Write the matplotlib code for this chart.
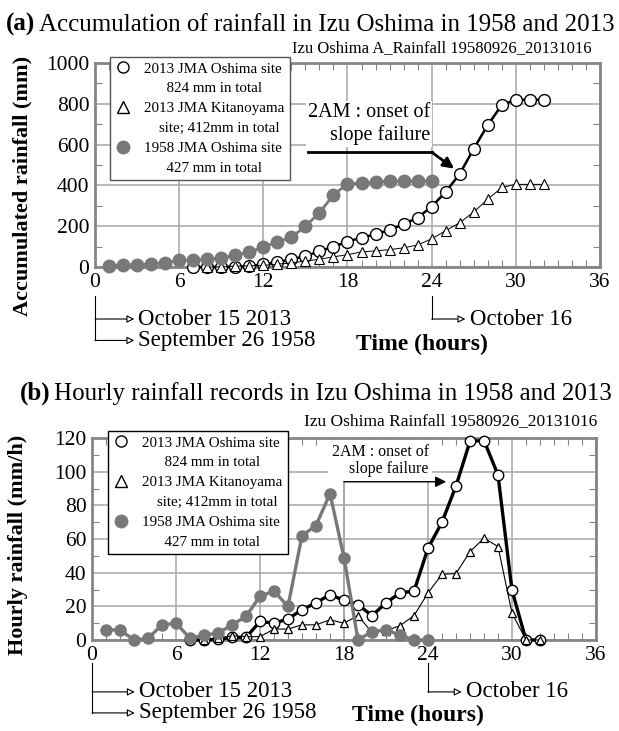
import matplotlib
matplotlib.use('Agg')
import matplotlib.pyplot as plt
from matplotlib.lines import Line2D
from matplotlib.ticker import MultipleLocator

plt.rcParams['font.family'] = ['Liberation Serif', 'DejaVu Serif']

# ---- data ----
hours_1958 = list(range(1, 25))
hours_osh = list(range(7, 33))
hours_kit = list(range(8, 33))

# accumulated rainfall (mm)
cum_1958 = [5, 11, 11, 13, 22, 32, 34, 38, 45, 57, 72, 98,
            124, 145, 200, 266, 353, 408, 410, 416, 420, 422, 422, 422]
cum_osh = [0, 0, 1, 2, 4, 14, 24, 37, 54, 77, 100, 124, 144,
           160, 182, 210, 242, 296, 368, 456, 580, 696, 794, 820, 820, 820]
cum_kit = [0, 1, 4, 6, 8, 14, 20, 29, 38, 50, 60, 74, 79,
           85, 94, 108, 138, 178, 217, 270, 332, 390, 405, 405, 405]

# hourly rainfall (mm/h)
rain_1958 = [6, 6, 0, 1, 9, 10, 1, 3, 4, 9, 14, 26,
             29, 20, 62, 68, 87, 49, 0, 5, 6, 3, 0, 0]
rain_osh = [0, 0, 0.5, 1.5, 1.5, 11, 10, 12.5, 18, 22, 27, 23.5, 21,
            14.5, 22, 28, 29, 54.5, 70, 91.5, 118, 118.5, 98, 29.5, 0, 0]
rain_kit = [0, 1, 2.5, 2, 2, 6.5, 6.5, 9, 9, 12, 10, 14.5, 4.5,
            5.5, 8.5, 14.5, 28, 39, 39.5, 52.5, 60.5, 55.5, 16, 0, 0]

leg_labels = ['2013 JMA Oshima site', '      824 mm in total',
              '2013 JMA Kitanoyama', '    site; 412mm in total',
              '1958 JMA Oshima site', '      427 mm in total']

GRAY = '#787878'
GRID = '#a6a6a6'
SPINE = '#858585'
W, H = 619, 731

fig = plt.figure(figsize=(W / 100, H / 100), dpi=100)


def fx(px):
    return px / W


def fy(py):
    return 1 - py / H


ax1 = fig.add_axes([fx(95), fy(267), fx(600) - fx(95), fy(63) - fy(267)])
ax2 = fig.add_axes([fx(92), fy(640), fx(596) - fx(92), fy(438) - fy(640)])


def style_axes(ax, ymax, ystep):
    ax.set_xlim(0, 36)
    ax.set_ylim(0, ymax)
    ax.xaxis.set_major_locator(MultipleLocator(6))
    ax.xaxis.set_minor_locator(MultipleLocator(1))
    ax.yaxis.set_major_locator(MultipleLocator(ystep))
    ax.yaxis.set_minor_locator(MultipleLocator(ystep / 2))
    ax.grid(True, which='major', color=GRID, lw=1.1)
    ax.set_axisbelow(True)
    ax.tick_params(which='major', length=0, labelsize=15.5, pad=4)
    ax.tick_params(which='minor', direction='in', length=5, width=0.8,
                   color=SPINE, top=True, right=True)
    for s in ax.spines.values():
        s.set_color(SPINE)
        s.set_linewidth(2)


def add_legend(ax, x0, y0, edge):
    hs = [Line2D([], [], ls='none', marker='o', ms=8, mfc='white', mec='k', mew=1),
          Line2D([], [], ls='none'),
          Line2D([], [], ls='none', marker='^', ms=8, mfc='white', mec='k', mew=1),
          Line2D([], [], ls='none'),
          Line2D([], [], ls='none', marker='o', ms=9, mfc=GRAY, mec=GRAY),
          Line2D([], [], ls='none')]
    leg = ax.legend(hs, leg_labels, loc='upper left', bbox_to_anchor=(x0, y0),
                    fontsize=10.8, fancybox=False, framealpha=1, edgecolor=edge,
                    borderpad=0.35, labelspacing=0.42, handlelength=1.0,
                    handletextpad=0.9, borderaxespad=0)
    leg.get_frame().set_linewidth(1)
    return leg


def date_marks(ax, y_top, y_r1, y_r2, tx_left, tx_right):
    tr = ax.get_xaxis_transform()
    ap = dict(arrowstyle='-|>', fc='white', ec='k', lw=0.8,
              shrinkA=0, shrinkB=0, mutation_scale=11)
    ax.plot([0, 0], [y_top, y_r2], transform=tr, clip_on=False, color='k', lw=0.8)
    ax.plot([24, 24], [y_top, y_r1], transform=tr, clip_on=False, color='k', lw=0.8)
    for yy, x0, x1, txt in [(y_r1, 0, tx_left, 'October 15 2013'),
                            (y_r2, 0, tx_left, 'September 26 1958'),
                            (y_r1, 24, tx_right, 'October 16')]:
        ax.annotate('', xy=(x1 - 0.3, yy), xytext=(x0, yy), xycoords=tr,
                    textcoords=tr, arrowprops=ap, annotation_clip=False)
        ax.text(x1, yy, txt, transform=tr, va='center', ha='left', fontsize=16.5)


def title(px, py, bold, rest, size):
    r = fig.canvas.get_renderer()
    t1 = fig.text(fx(px), fy(py), bold, fontsize=size, fontweight='bold', va='baseline')
    w = t1.get_window_extent(r).width / W
    fig.text(fx(px) + w + 0.006, fy(py), rest, fontsize=size, va='baseline')


# ---- panel (a) ----
style_axes(ax1, 1000, 200)
ax1.plot(hours_osh, cum_osh, color='k', lw=1.8, marker='o', ms=8.5, mfc='white',
         mec='k', mew=1, clip_on=False, zorder=3)
ax1.plot(hours_kit, cum_kit, color='k', lw=0.7, marker='^', ms=6.5, mfc='white',
         mec='k', mew=0.8, clip_on=False, zorder=4)
ax1.plot(hours_1958, cum_1958, color=GRAY, lw=2, marker='o', ms=9, mfc=GRAY,
         mec=GRAY, clip_on=False, zorder=5)
add_legend(ax1, 0.03, 1.03, '#555555')
ax1.text(23.9, 700, '2AM : onset of\nslope failure', ha='right', va='center',
         multialignment='right', fontsize=14.5, linespacing=1.22,
         bbox=dict(fc='white', ec='none', pad=1.5), zorder=2.5)
ax1.plot([15.2, 24.0], [563, 563], color='k', lw=2, zorder=6)
ax1.annotate('', xy=(25.6, 482), xytext=(24.0, 563),
             arrowprops=dict(arrowstyle='-|>', color='k', lw=2, shrinkA=0,
                             shrinkB=0, mutation_scale=16), zorder=6)
date_marks(ax1, -0.142, -0.255, -0.36, 3.1, 26.7)

title(6, 31, '(a)', 'Accumulation of rainfall in Izu Oshima in 1958 and 2013', 18)
fig.text(fx(592), fy(48), 'Izu Oshima A_Rainfall 19580926_20131016', ha='right',
         va='center', fontsize=12)
fig.text(fx(22), fy(186), 'Accumulated rainfall (mm)', rotation=90, ha='center',
         va='center', fontsize=16, fontweight='bold')
fig.text(fx(422), fy(344), 'Time (hours)', ha='center', va='center',
         fontsize=17, fontweight='bold')

# ---- panel (b) ----
style_axes(ax2, 120, 20)
ax2.plot(hours_osh, rain_osh, color='k', lw=2.4, marker='o', ms=7.5, mfc='white',
         mec='k', mew=1, clip_on=False, zorder=3)
ax2.plot(hours_kit, rain_kit, color='k', lw=0.8, marker='^', ms=6, mfc='white',
         mec='k', mew=0.9, clip_on=False, zorder=4)
ax2.plot(hours_1958, rain_1958, color=GRAY, lw=2.4, marker='o', ms=8, mfc=GRAY,
         mec=GRAY, clip_on=False, zorder=5)
add_legend(ax2, 0.032, 1.035, 'k')
ax2.text(24.05, 106.6, '2AM : onset of\nslope failure', ha='right', va='center',
         multialignment='right', fontsize=11.5, linespacing=1.1,
         bbox=dict(fc='white', ec='none', pad=2.5), zorder=2.5)
ax2.annotate('', xy=(25.3, 94), xytext=(18, 94),
             arrowprops=dict(arrowstyle='-|>', color='k', lw=1, shrinkA=0,
                             shrinkB=0, mutation_scale=16), zorder=6)
ax2.plot([18, 18], [0, 94], color=GRID, lw=1.1, zorder=0.5)
date_marks(ax2, -0.115, -0.257, -0.361, 3.35, 26.7)

title(20, 400, '(b)', 'Hourly rainfall records in Izu Oshima in 1958 and 2013', 18)
fig.text(fx(597), fy(421), 'Izu Oshima Rainfall 19580926_20131016', ha='right',
         va='center', fontsize=12.5)
fig.text(fx(18), fy(545), 'Hourly rainfall (mm/h)', rotation=90, ha='center',
         va='center', fontsize=16, fontweight='bold')
fig.text(fx(418), fy(715), 'Time (hours)', ha='center', va='center',
         fontsize=17, fontweight='bold')

fig.savefig('out.png', dpi=100)
